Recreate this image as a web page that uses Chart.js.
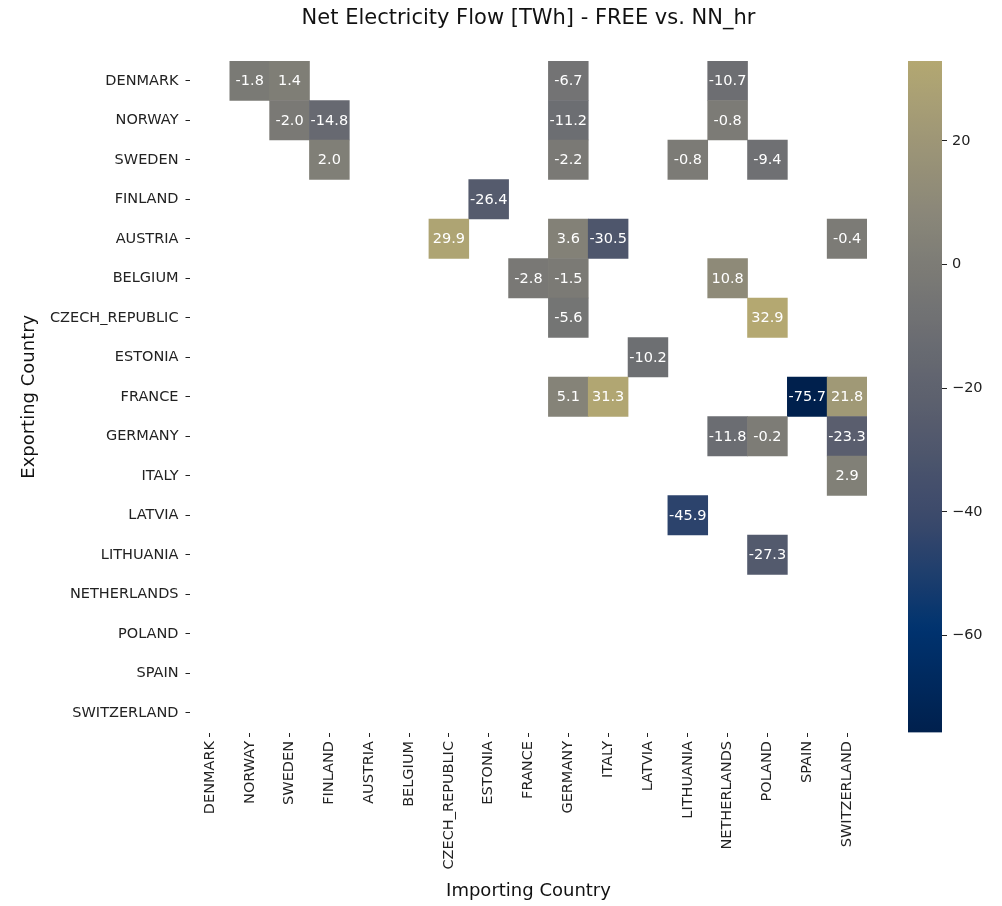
<!DOCTYPE html>
<html><head><meta charset="utf-8">
<script src="https://cdn.jsdelivr.net/npm/chart.js@4.4.1/dist/chart.umd.min.js"></script>
<style>
html,body{margin:0;padding:0;background:#fff;}
#wrap{position:relative;width:1002px;height:906px;background:#fff;}
canvas{position:absolute;left:0;top:0;}
</style></head><body>
<div id="wrap"><canvas id="main" width="1002" height="906"></canvas><canvas id="cbar" width="1002" height="906"></canvas></div>
<script>
// ---- data ----
const exporters = ['DENMARK','NORWAY','SWEDEN','FINLAND','AUSTRIA','BELGIUM','CZECH_REPUBLIC','ESTONIA','FRANCE','GERMANY','ITALY','LATVIA','LITHUANIA','NETHERLANDS','POLAND','SPAIN','SWITZERLAND'];
const importers = ['DENMARK','NORWAY','SWEDEN','FINLAND','AUSTRIA','BELGIUM','CZECH_REPUBLIC','ESTONIA','FRANCE','GERMANY','ITALY','LATVIA','LITHUANIA','NETHERLANDS','POLAND','SPAIN','SWITZERLAND'];
const flowFrom = ['DENMARK','DENMARK','DENMARK','DENMARK','NORWAY','NORWAY','NORWAY','NORWAY','SWEDEN','SWEDEN','SWEDEN','SWEDEN','FINLAND','AUSTRIA','AUSTRIA','AUSTRIA','AUSTRIA','BELGIUM','BELGIUM','BELGIUM','CZECH_REPUBLIC','CZECH_REPUBLIC','ESTONIA','FRANCE','FRANCE','FRANCE','FRANCE','GERMANY','GERMANY','GERMANY','ITALY','LATVIA','LITHUANIA'];
const flowTo = ['NORWAY','SWEDEN','GERMANY','NETHERLANDS','SWEDEN','FINLAND','GERMANY','NETHERLANDS','FINLAND','GERMANY','LITHUANIA','POLAND','ESTONIA','CZECH_REPUBLIC','GERMANY','ITALY','SWITZERLAND','FRANCE','GERMANY','NETHERLANDS','GERMANY','POLAND','LATVIA','GERMANY','ITALY','SPAIN','SWITZERLAND','NETHERLANDS','POLAND','SWITZERLAND','SWITZERLAND','LITHUANIA','POLAND'];
const flowValue = [-1.8,1.4,-6.7,-10.7,-2.0,-14.8,-11.2,-0.8,2.0,-2.2,-0.8,-9.4,-26.4,29.9,3.6,-30.5,-0.4,-2.8,-1.5,10.8,-5.6,32.9,-10.2,5.1,31.3,-75.7,21.8,-11.8,-0.2,-23.3,2.9,-45.9,-27.3];
const colorbarTicks = [-60,-40,-20,0,20];
const titleText = 'Net Electricity Flow [TWh] - FREE vs. NN_hr';
const xTitle = 'Importing Country';
const yTitle = 'Exporting Country';

// ---- colour map (cividis, centred on 0 like seaborn center=0) ----
const CIVIDIS = ['#00204D','#00336F','#39486B','#575C6D','#707173','#8A8779','#A69D75','#C4B56C','#E4CF5B','#FFEA46'];
const vmin = Math.min(...flowValue), vmax = Math.max(...flowValue);
const vrange = Math.max(vmax, -vmin);
function hex(h){return [parseInt(h.slice(1,3),16),parseInt(h.slice(3,5),16),parseInt(h.slice(5,7),16)];}
const stops = CIVIDIS.map(hex);
function cmapRGB(t){
  t = Math.max(0, Math.min(1, t));
  const p = t*(stops.length-1); const i = Math.min(Math.floor(p), stops.length-2); const f = p-i;
  return stops[i].map((c,k)=>Math.round(c + (stops[i+1][k]-c)*f));
}
function colorFor(v){ const c = cmapRGB((v + vrange)/(2*vrange)); return `rgb(${c[0]},${c[1]},${c[2]})`; }
function textColorFor(v){
  const c = cmapRGB((v + vrange)/(2*vrange)).map(x=>{x/=255;return x<=0.03928?x/12.92:Math.pow((x+0.055)/1.055,2.4);});
  const lum = 0.2126*c[0]+0.7152*c[1]+0.0722*c[2];
  return lum > 0.408 ? '#262626' : '#ffffff';
}

Chart.defaults.font.family = 'DejaVu Sans';
Chart.defaults.color = '#222';

const cells = flowValue.map((v,i)=>{ const r = exporters.indexOf(flowFrom[i]); return {x: flowTo[i], y:[r, r+1], v}; });

const labelPlugin = {
  id:'cellLabels',
  afterDatasetsDraw(chart){
    const meta = chart.getDatasetMeta(0); const ctx = chart.ctx;
    ctx.save(); ctx.font = '14.5px "DejaVu Sans"'; ctx.textAlign='center'; ctx.textBaseline='middle';
    meta.data.forEach((el,i)=>{
      const raw = chart.data.datasets[0].data[i];
      const p = el.getProps(['x','y','base'], true);
      ctx.fillStyle = textColorFor(raw.v);
      ctx.fillText(raw.v.toFixed(1), p.x, (p.y + p.base)/2 + 0.5);
    });
    ctx.restore();
  }
};

new Chart(document.getElementById('main'), {
  type:'bar',
  data:{ labels: importers, datasets:[{ data: cells, backgroundColor: c => c.raw ? colorFor(c.raw.v) : 'rgba(0,0,0,0)', borderWidth:0, categoryPercentage:1, barPercentage:1, grouped:false }]},
  options:{
    responsive:false, animation:false, events:[],
    layout:{padding:{left:0,right:135,top:0,bottom:0}},
    plugins:{
      legend:{display:false}, tooltip:{enabled:false},
      title:{display:true, text:titleText, fullSize:false, font:{family:'DejaVu Sans', size:21, weight:'normal'}, color:'#111', padding:{top:6,bottom:29.8}}
    },
    scales:{
      x:{ type:'category', offset:true,
        grid:{offset:false, drawOnChartArea:false, drawTicks:true, tickLength:4.5, tickColor:'#222'},
        border:{display:false},
        ticks:{minRotation:90, maxRotation:90, autoSkip:false, padding:4, font:{size:14.5}, color:'#222'},
        title:{display:true, text:xTitle, font:{family:'DejaVu Sans', size:18}, color:'#111', padding:{top:0,bottom:3.5}},
        afterFit(s){ s.height = 173.5; } },
      y:{ type:'linear', min:0, max:17, reverse:true,
        afterBuildTicks(s){ s.ticks = exporters.map((_,i)=>({value:i+0.5})); },
        grid:{drawOnChartArea:false, drawTicks:true, tickLength:4.5, tickColor:'#222'},
        border:{display:false},
        ticks:{autoSkip:false, padding:7, font:{size:14.5}, color:'#222', callback:(v,i)=>exporters[i]},
        title:{display:true, text:yTitle, font:{family:'DejaVu Sans', size:18}, color:'#111', padding:{top:19,bottom:0}},
        afterFit(s){ s.width = 190; } }
    }
  },
  plugins:[labelPlugin]
});

new Chart(document.getElementById('cbar'), {
  type:'bar',
  data:{ labels:[''], datasets:[{ data:[[vmin, vmax]], borderWidth:0, categoryPercentage:1, barPercentage:1,
    backgroundColor: c => {
      const ch = c.chart; if (!ch.chartArea) return 'rgba(0,0,0,0)';
      const ys = ch.scales.y; const y0 = ys.getPixelForValue(vmin), y1 = ys.getPixelForValue(vmax);
      const g = ch.ctx.createLinearGradient(0, y0, 0, y1);
      for (let k=0;k<=60;k++){ const v = vmin + (vmax-vmin)*k/60; g.addColorStop(k/60, colorFor(v)); }
      return g;
    } }]},
  options:{
    responsive:false, animation:false, events:[],
    layout:{padding:{left:908,right:0,top:61,bottom:173.5}},
    plugins:{legend:{display:false}, tooltip:{enabled:false}},
    scales:{
      x:{display:false},
      y:{position:'right', min:vmin, max:vmax,
        afterBuildTicks(s){ s.ticks = colorbarTicks.map(v=>({value:v})); },
        grid:{drawOnChartArea:false, drawTicks:true, tickLength:5, tickColor:'#222'},
        border:{display:false},
        ticks:{padding:5, font:{size:14.5}, color:'#222', callback:v=>String(v).replace('-','\u2212')},
        afterFit(s){ s.width = 60; } }
    }
  }
});
</script>
</body></html>
